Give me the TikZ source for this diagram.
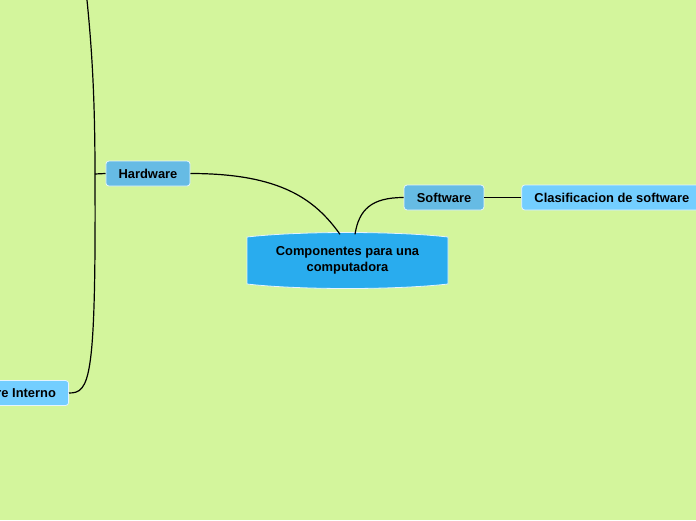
\documentclass[tikz,border=0pt]{standalone}
\usepackage{fontspec}
\setmainfont{Liberation Sans}
\usetikzlibrary{positioning}

\definecolor{bggreen}{HTML}{D3F59C}
\definecolor{rootblue}{HTML}{29ACEE}
\definecolor{topicblue}{HTML}{66BBE4}
\definecolor{subblue}{HTML}{73CEFF}
\definecolor{edgewhite}{HTML}{E4F4FF}

\begin{document}
\begin{tikzpicture}[
  x=1pt, y=-1pt,
  topic/.style={draw=edgewhite, line width=0.8pt, rounded corners=3pt, fill=topicblue,
    font=\fontsize{12.9}{15}\selectfont\bfseries, inner xsep=12.7pt, inner ysep=0pt, minimum height=25pt},
  subtopic/.style={topic, fill=subblue},
  link/.style={line width=1.2pt, black}
]
\useasboundingbox (0,0) rectangle (696,520);
\clip (0,0) rectangle (696,520);
\fill[bggreen] (0,0) rectangle (696,520);

% central topic
\fill[rootblue, draw=edgewhite, line width=0.8pt]
  (247,237) .. controls (300,231) and (395,231) .. (448,237) -- (448,284)
  .. controls (395,290) and (300,290) .. (247,284) -- cycle;
\node[align=center, font=\fontsize{12.9}{16}\selectfont\bfseries, minimum width=201pt, minimum height=52pt]
  (root) at (347.5,260.5) {Componentes para una\\computadora};

% main topics
\node[topic] (hardware) at (148,173.5) {Hardware};
\node[topic] (software) at (444,197.5) {Software};
\node[subtopic, right=37pt of software] (clasif) {Clasificacion de software};
\node[subtopic, anchor=east] (interno) at (69,393) {re Interno};

\coordinate (hub) at (95,174);
\coordinate (upper) at (86,-10);

\draw[link] (hardware.east) .. controls +(90,0) and +(-25,-35) .. ([xshift=-7.5pt]root.north);
\draw[link] ([xshift=7.5pt]root.north) .. controls +(4,-25) and +(-32,0) .. (software.west);
\draw[link] (software.east) -- (clasif.west);
\draw[link] (hardware.west) -- (hub);
\draw[link] (hub) .. controls (95,80) and (90,30) .. (upper);
\draw[link] (hub) .. controls (96,380) and (90,393) .. (interno.east);
\end{tikzpicture}
\end{document}
